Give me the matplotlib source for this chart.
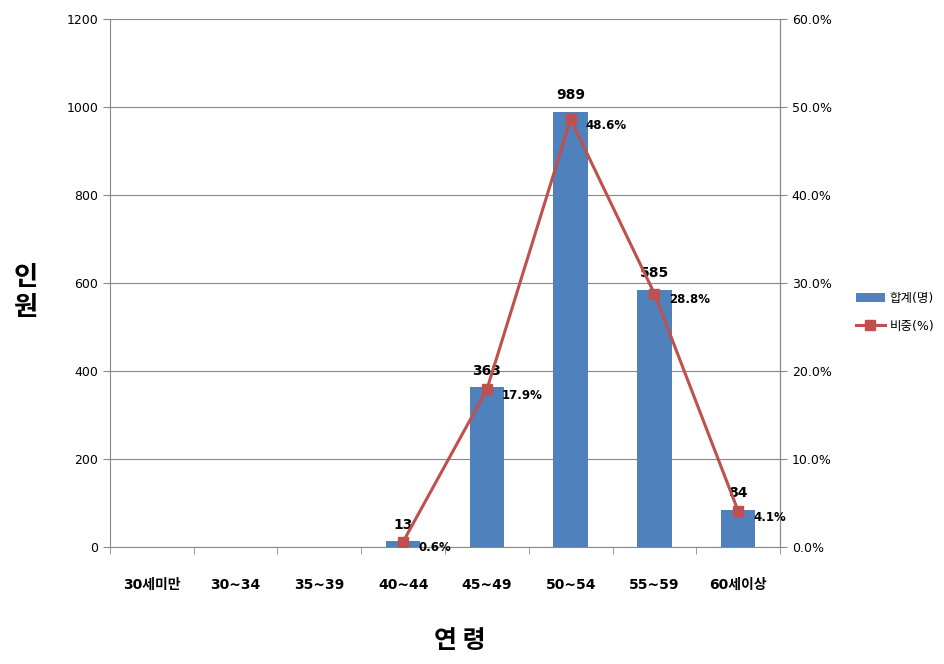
import numpy as np
import matplotlib
matplotlib.use("Agg")
import matplotlib.pyplot as plt
from matplotlib.ticker import FuncFormatter

plt.rcParams['font.family'] = ['DejaVu Sans', 'Noto Sans CJK KR']

categories = ["30세미만", "30~34", "35~39", "40~44", "45~49", "50~54", "55~59", "60세이상"]
counts = [0, 0, 0, 13, 363, 989, 585, 84]
ratios = [np.nan, np.nan, np.nan, 0.6, 17.9, 48.6, 28.8, 4.1]

bar_color = "#4F81BD"
line_color = "#C0504D"
grid_color = "#888888"

fig = plt.figure(figsize=(9.45, 6.64), dpi=100)
ax = fig.add_axes([0.1164, 0.1762, 0.709, 0.7952])
x = np.arange(len(categories))

bars = ax.bar(x, counts, width=0.41, color=bar_color, label="합계(명)", zorder=2)
ax.set_xlim(-0.5, len(categories) - 0.5)
ax.set_ylim(0, 1200)
ax.set_yticks(range(0, 1201, 200))
ax.grid(axis="y", color=grid_color, linewidth=0.8, zorder=0)
ax.set_xticks(x)
ax.set_xticklabels(categories, fontsize=10, fontweight="bold")
ax.set_xticks(np.arange(-0.5, len(categories)), minor=True)
ax.tick_params(axis="x", which="major", length=0, pad=22)
ax.tick_params(axis="x", which="minor", length=5, color=grid_color)
ax.tick_params(axis="y", labelsize=9, color=grid_color, length=5)
ax.spines["top"].set_visible(False)
for s in ["left", "bottom", "right"]:
    ax.spines[s].set_color(grid_color)

for xi, v in zip(x, counts):
    if v > 0:
        ax.text(xi, v + 22, str(v), ha="center", va="bottom", fontsize=10, fontweight="bold")

ax2 = ax.twinx()
ax2.set_ylim(0, 60)
ax2.set_yticks(range(0, 61, 10))
ax2.yaxis.set_major_formatter(FuncFormatter(lambda v, p: f"{v:.1f}%"))
ax2.tick_params(axis="y", labelsize=9, color=grid_color, length=5)
for s in ["top", "left", "bottom"]:
    ax2.spines[s].set_visible(False)
ax2.spines["right"].set_color(grid_color)
line, = ax2.plot(x, ratios, color=line_color, linewidth=2.2, marker="s", markersize=7,
                 label="비중(%)", zorder=3)
for xi, r in zip(x, ratios):
    if not np.isnan(r):
        ax2.text(xi + 0.18, r - 0.7, f"{r:.1f}%", ha="left", va="center", fontsize=8.5, fontweight="bold")

fig.legend([bars, line], ["합계(명)", "비중(%)"], loc="center left", bbox_to_anchor=(0.903, 0.53),
           frameon=False, fontsize=9, handlelength=2.3, handletextpad=0.4, labelspacing=1.2,
           borderaxespad=0, borderpad=0.2)

fig.text(0.027, 0.56, "인\n원", ha="center", va="center", fontsize=19, fontweight="bold",
         linespacing=1.15, family="Noto Sans CJK KR")
fig.text(0.487, 0.035, "연 령", ha="center", va="center", fontsize=18, fontweight="bold",
         family="Noto Sans CJK KR")

fig.savefig("out.png", dpi=100)
